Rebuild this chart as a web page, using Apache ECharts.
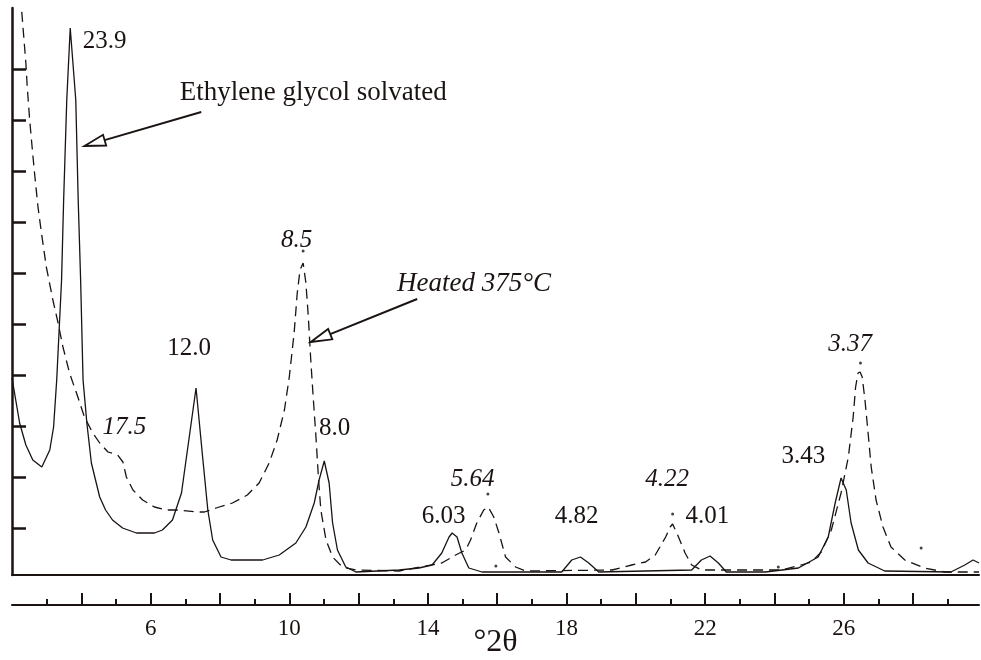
<!DOCTYPE html>
<html>
<head>
<meta charset="utf-8">
<script src="https://cdn.jsdelivr.net/npm/echarts@6/dist/echarts.min.js"></script>
<style>
  html, body { margin: 0; padding: 0; background: #fff; }
  #chart { width: 981px; height: 660px; }
</style>
</head>
<body>
<div id="chart"></div>
<script>
// °2θ vs intensity (arbitrary units)
const solvated = [
  [2.0, 197], [2.22, 152], [2.40, 130], [2.60, 115], [2.86, 108], [3.09, 125], [3.20, 148],
  [3.29, 195], [3.37, 252], [3.43, 295], [3.49, 375], [3.58, 475], [3.68, 547], [3.84, 475],
  [3.91, 375], [3.98, 295], [4.05, 195], [4.16, 152], [4.29, 112], [4.53, 78], [4.70, 65],
  [4.90, 55], [5.19, 47], [5.59, 42], [6.11, 42], [6.34, 45], [6.63, 55], [6.89, 82],
  [7.21, 162], [7.31, 187], [7.50, 118], [7.65, 65], [7.79, 35], [8.03, 18], [8.32, 15],
  [9.23, 15], [9.71, 20], [10.19, 32], [10.48, 48], [10.72, 72], [10.86, 95], [11.01, 114],
  [11.15, 92], [11.25, 52], [11.39, 25], [11.63, 8], [11.92, 3], [13.17, 5], [13.74, 7],
  [14.12, 10], [14.40, 22], [14.61, 38], [14.70, 42], [14.84, 38], [14.98, 22], [15.18, 7],
  [15.56, 3], [17.86, 3], [18.15, 15], [18.40, 18], [18.64, 12], [18.93, 3], [21.61, 5],
  [21.89, 15], [22.14, 19], [22.38, 12], [22.61, 3], [23.74, 3], [24.69, 7], [25.26, 18],
  [25.55, 38], [25.75, 72], [25.92, 97], [26.07, 85], [26.21, 52], [26.42, 25], [26.70, 12],
  [27.18, 4], [29.09, 3], [29.49, 10], [29.73, 15], [29.9, 12]
];
const heated = [
  [2.21, 595], [2.30, 555], [2.40, 512], [2.44, 488], [2.51, 455], [2.58, 428], [2.65, 402],
  [2.75, 368], [2.85, 342], [2.99, 308], [3.14, 282], [3.18, 275], [3.33, 252], [3.47, 228],
  [3.66, 202], [3.90, 178], [4.09, 158], [4.33, 142], [4.53, 132], [4.77, 123], [5.05, 120],
  [5.20, 113], [5.30, 98], [5.49, 85], [5.77, 75], [6.11, 68], [6.45, 65], [6.83, 65],
  [7.31, 63], [7.55, 63], [7.89, 67], [8.36, 72], [8.79, 80], [9.13, 92], [9.42, 112],
  [9.65, 135], [9.86, 165], [10.00, 198], [10.14, 242], [10.23, 282], [10.31, 305],
  [10.40, 312], [10.48, 292], [10.55, 258], [10.62, 215], [10.69, 178], [10.77, 138],
  [10.84, 98], [10.91, 65], [11.06, 35], [11.25, 18], [11.53, 8], [11.92, 5], [13.17, 4],
  [14.40, 12], [14.80, 20], [15.09, 25], [15.23, 35], [15.41, 52], [15.61, 65], [15.74, 68],
  [15.90, 58], [16.05, 42], [16.24, 18], [16.53, 8], [16.82, 4], [19.31, 5], [19.88, 10],
  [20.28, 13], [20.56, 20], [20.86, 38], [20.99, 48], [21.06, 51], [21.23, 38], [21.42, 22],
  [21.61, 10], [21.89, 5], [24.20, 5], [24.77, 10], [25.06, 13], [25.35, 23], [25.64, 45],
  [25.92, 82], [26.13, 118], [26.27, 158], [26.34, 188], [26.41, 202], [26.47, 203],
  [26.53, 198], [26.61, 175], [26.70, 142], [26.79, 108], [26.93, 75], [27.13, 48],
  [27.36, 28], [27.76, 15], [28.33, 7], [28.91, 3], [29.9, 3]
];
const markerDots = [
  [10.40, 324], [15.73, 81], [15.96, 9], [21.06, 61], [24.11, 8], [26.48, 212], [28.23, 27]
];

const yTicks = [47, 98, 149, 200, 251, 302, 353, 404, 455, 506];
const majorTicks = [4, 6, 8, 10, 12, 14, 16, 18, 20, 22, 24, 26, 28];
const minorTicks = [3, 5, 7, 9, 11, 13, 15, 17, 19, 21, 23, 25, 27, 29];
const tickLabels = [6, 10, 14, 18, 22, 26];

// d-spacing labels: text, anchor [°2θ, intensity], italic = heated trace
const peakLabels = [
  ['23.9', [4.04, 534], false],
  ['12.0', [6.48, 227], false],
  ['8.0', [10.86, 147], false],
  ['6.03', [13.82, 59], false],
  ['4.82', [17.66, 59], false],
  ['4.01', [21.43, 59], false],
  ['3.43', [24.20, 119], false],
  ['17.5', [4.61, 148], true],
  ['8.5', [9.76, 335], true],
  ['5.64', [14.66, 96], true],
  ['4.22', [20.27, 96], true],
  ['3.37', [25.55, 231], true]
];
const callouts = [
  ['Ethylene glycol solvated', [6.84, 482], [7.46, 463], [4.09, 429], false],
  ['Heated 375°C', [13.11, 291], [13.69, 276], [10.62, 233], true]
];

const ink = '#1a1311';
const serif = '"Liberation Serif", "Times New Roman", serif';

const chart = echarts.init(document.getElementById('chart'));

chart.setOption({
  animation: false,
  backgroundColor: '#fff',
  grid: { left: 12, right: 2, top: 8, bottom: 85, outerBoundsMode: 'none', containLabel: false },
  xAxis: [
    {
      type: 'value', min: 2, max: 29.9, position: 'bottom',
      axisLine: { show: true, onZero: false, lineStyle: { color: ink, width: 2 } },
      axisTick: { show: false }, axisLabel: { show: false }, splitLine: { show: false }
    },
    {
      type: 'value', min: 2, max: 29.9, position: 'bottom', offset: 30,
      axisLine: { show: true, onZero: false, lineStyle: { color: ink, width: 2 } },
      axisTick: { inside: true, length: 12, customValues: majorTicks, lineStyle: { color: ink, width: 2 } },
      axisLabel: { customValues: tickLabels, margin: 12, color: ink, fontSize: 23, fontFamily: serif },
      splitLine: { show: false },
      name: '°2θ', nameLocation: 'middle', nameGap: 22, nameMoveOverlap: false,
      nameTextStyle: { color: ink, fontSize: 32, fontFamily: serif }
    },
    {
      type: 'value', min: 2, max: 29.9, position: 'bottom', offset: 30,
      axisLine: { show: false, onZero: false },
      axisTick: { inside: true, length: 6, customValues: minorTicks, lineStyle: { color: ink, width: 2 } },
      axisLabel: { show: false }, splitLine: { show: false }
    }
  ],
  yAxis: {
    type: 'value', min: 0, max: 567,
    axisLine: { show: true, onZero: false, lineStyle: { color: ink, width: 2.5 } },
    axisTick: { show: true, inside: true, length: 14, customValues: yTicks, lineStyle: { color: ink, width: 2.5 } },
    axisLabel: { show: false }, splitLine: { show: false }
  },
  series: [
    {
      name: 'Ethylene glycol solvated', type: 'line', data: solvated,
      showSymbol: false, lineStyle: { color: ink, width: 1.3 }, clip: true
    },
    {
      name: 'Heated 375°C', type: 'line', data: heated,
      showSymbol: false, lineStyle: { color: ink, width: 1.3, type: [10, 6] }, clip: true
    },
    {
      type: 'scatter', data: markerDots, symbolSize: 3,
      itemStyle: { color: ink }
    }
  ]
});

// annotations, anchored in data space
const px = (p) => chart.convertToPixel({ gridIndex: 0 }, p);
const graphics = [];

peakLabels.forEach(function (l) {
  const p = px(l[1]);
  graphics.push({
    type: 'text', x: p[0], y: p[1], silent: true,
    style: {
      text: l[0], fill: ink, textAlign: 'left', textVerticalAlign: 'middle',
      font: (l[2] ? 'italic ' : '') + '25px ' + serif
    }
  });
});

callouts.forEach(function (c) {
  const t = px(c[1]), tail = px(c[2]), tip = px(c[3]);
  graphics.push({
    type: 'text', x: t[0], y: t[1], silent: true,
    style: {
      text: c[0], fill: ink, textAlign: 'left', textVerticalAlign: 'middle',
      font: (c[4] ? 'italic ' : '') + '27px ' + serif
    }
  });
  const dx = tail[0] - tip[0], dy = tail[1] - tip[1];
  const len = Math.sqrt(dx * dx + dy * dy);
  const ux = dx / len, uy = dy / len;
  const headLen = 21, halfW = 5.6;
  const bx = tip[0] + ux * headLen, by = tip[1] + uy * headLen;
  graphics.push({
    type: 'line', silent: true,
    shape: { x1: tail[0], y1: tail[1], x2: bx, y2: by },
    style: { stroke: ink, lineWidth: 2 }
  });
  graphics.push({
    type: 'polygon', silent: true,
    shape: { points: [tip, [bx - uy * halfW, by + ux * halfW], [bx + uy * halfW, by - ux * halfW]] },
    style: { fill: '#fff', stroke: ink, lineWidth: 1.8 }
  });
});

chart.setOption({ graphic: graphics });
</script>
</body>
</html>
